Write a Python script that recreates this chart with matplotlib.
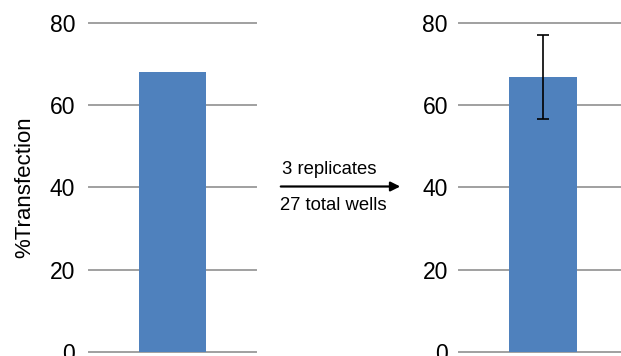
import matplotlib
matplotlib.use('Agg')
import matplotlib.pyplot as plt

# --- Dados ---
single_value = [68]
replicate_mean = [66.7]
replicate_err = [10.2]
yticks = [0, 20, 40, 60, 80]
ylabel = '%Transfection'
arrow_top = '3 replicates'
arrow_bottom = '27 total wells'

plt.rcParams['font.family'] = ['Liberation Sans', 'DejaVu Sans']

BLUE = '#4F81BD'
GRID = '#a0a0a0'

fig = plt.figure(figsize=(6.21, 3.56), dpi=100)
ax1 = fig.add_axes([89 / 621, 4 / 356, 167 / 621, 329.5 / 356])
ax2 = fig.add_axes([459 / 621, 4 / 356, 168 / 621, 329.5 / 356])


def estilo(ax, pad):
    ax.set_ylim(0, 80)
    ax.set_xlim(-0.5, 0.5)
    ax.set_yticks(yticks)
    ax.set_xticks([])
    for s in ax.spines.values():
        s.set_visible(False)
    ax.tick_params(axis='y', length=0, pad=pad, labelsize=16.5)
    for y in yticks:
        ax.axhline(y, color=GRID, linewidth=1.4, zorder=0, clip_on=False)


estilo(ax1, 10)
estilo(ax2, 8)

ax1.bar([0], single_value, width=0.4, color=BLUE, zorder=2)
ax1.set_ylabel(ylabel, fontsize=16, labelpad=10)

ax2.bar([0], replicate_mean, width=0.4, color=BLUE, zorder=2,
        yerr=replicate_err, error_kw=dict(ecolor='black', elinewidth=1.2, capsize=4, capthick=1.2))

# seta central
fig.add_artist(matplotlib.patches.FancyArrowPatch(
    (278 / 621, 1 - 186.5 / 356), (403 / 621, 1 - 186.5 / 356),
    transform=fig.transFigure, arrowstyle='-|>', mutation_scale=14,
    color='black', linewidth=1.6))
fig.text(329 / 621, 1 - 169 / 356, arrow_top, ha='center', va='center', fontsize=13.3)
fig.text(333 / 621, 1 - 205 / 356, arrow_bottom, ha='center', va='center', fontsize=13.3)

plt.savefig('out.png', dpi=100)
plt.close()
